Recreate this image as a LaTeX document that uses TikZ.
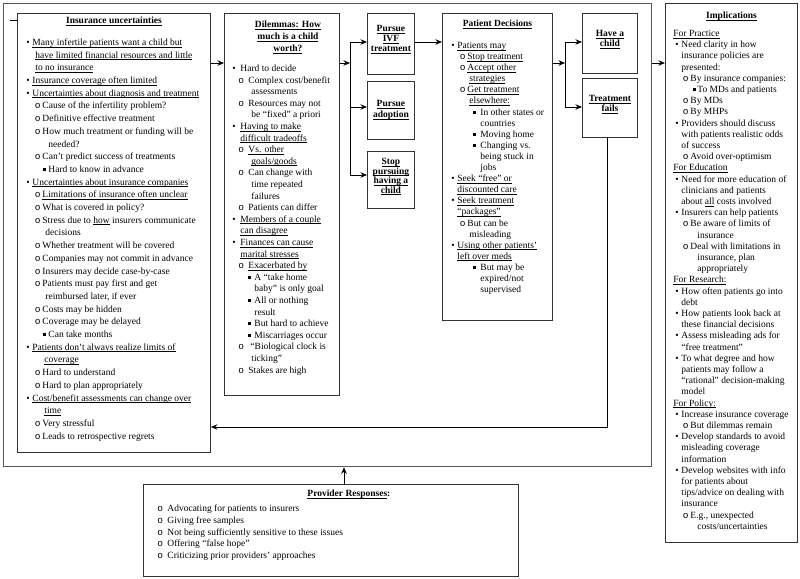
\documentclass[tikz,border=0pt]{standalone}
\usepackage{fontspec}
\setmainfont{Liberation Serif}
\newfontfamily\monof{Liberation Mono}
\usetikzlibrary{arrows.meta}
\newsavebox\ulbox
\newcommand\ul[1]{\sbox\ulbox{#1}\rlap{\rule[-1.6pt]{\wd\ulbox}{0.5pt}}\usebox\ulbox}
\newcommand\bul{•}
\newcommand\circb{{\monof o}}
\newcommand\sqb{\rule[1.4pt]{3pt}{3pt}}
\newcommand\LI[4]{\par\hangindent=#3\hangafter=1\noindent\makebox[#2][l]{\hspace*{#1}#4}\ignorespaces}
\newcommand\Hd[1]{\par\noindent\hspace*{8pt}\ul{#1}}
\tikzset{
  frame/.style={draw=black!65, line width=1.3pt, inner sep=0pt, anchor=north west},
  box/.style={draw=black!80, line width=0.9pt, inner sep=0pt, anchor=north west, fill=white},
  conn/.style={draw=black, line width=0.8pt},
  arr/.style={conn, -{Stealth[length=6.5pt,width=5.5pt]}}
}
\begin{document}
\begin{tikzpicture}[x=1pt,y=-1pt]
\useasboundingbox (0,0) rectangle (800,578);
\node[frame, minimum width=648pt, minimum height=463pt] (frame) at (3,3) {};

% Insurance uncertainties
\node[box] (ins) at (17,13) {\begin{minipage}[t][439pt][t]{193pt}\fontsize{9.5}{12.7}\selectfont
{\centering\rule{0pt}{10pt}\textbf{\ul{Insurance uncertainties}}\par}
\vspace{9.3pt}
\rightskip=-60pt plus 1fil
\def\Ia{\LI{9pt}{15pt}{18pt}{\bul}}\def\Ib{\LI{17.5pt}{25pt}{28pt}{\circb}}\def\Ic{\LI{26pt}{31pt}{31pt}{\sqb}}
\Ia\ul{Many infertile patients want a child but}\newline\ul{have limited financial resources and little}\newline\ul{to no insurance}
\Ia\ul{Insurance coverage often limited}
\Ia\ul{Uncertainties about diagnosis and treatment}
\Ib Cause of the infertility problem?
\Ib Definitive effective treatment
\Ib How much treatment or funding will be\newline\hspace*{3pt}needed?
\Ib Can’t predict success of treatments
\Ic Hard to know in advance
\Ia\ul{Uncertainties about insurance companies}
\Ib\ul{Limitations of insurance often unclear}
\Ib What is covered in policy?
\Ib Stress due to \ul{how} insurers communicate\newline decisions
\Ib Whether treatment will be covered
\Ib Companies may not commit in advance
\Ib Insurers may decide case-by-case
\Ib Patients must pay first and get\newline reimbursed later, if ever
\Ib Costs may be hidden
\Ib Coverage may be delayed
\Ic Can take months
\Ia\ul{Patients don’t always realize limits of}\newline\hspace*{9pt}\ul{coverage}
\Ib Hard to understand
\Ib Hard to plan appropriately
\Ia\ul{Cost/benefit assessments can change over}\newline\hspace*{9pt}\ul{time}
\Ib Very stressful
\Ib Leads to retrospective regrets\par
\end{minipage}};

% Dilemmas
\node[box] (dil) at (224,13) {\begin{minipage}[t][382pt][t]{115pt}\fontsize{9.5}{11.6}\selectfont
{\centering\leftskip=12pt plus 1fil\fontsize{9.5}{12}\selectfont\rule{0pt}{14pt}\textbf{\ul{Dilemmas: How}}\\\textbf{\ul{much is a child}}\\\textbf{\ul{worth?}}\par}
\vspace{8.4pt}
\rightskip=-60pt plus 1fil
\def\Ia{\LI{8pt}{16pt}{16pt}{\bul}}\def\Ib{\LI{14pt}{24pt}{27pt}{\circb}}\def\Ic{\LI{24pt}{30pt}{30pt}{\sqb}}
\Ia Hard to decide
\Ib Complex cost/benefit\newline assessments
\Ib Resources may not\newline be “fixed” a priori
\Ia\ul{Having to make}\newline\ul{difficult tradeoffs}
\Ib\ul{Vs. other}\newline\ul{goals/goods}
\Ib Can change with\newline time repeated\newline failures
\Ib Patients can differ
\Ia\ul{Members of a couple}\newline\ul{can disagree}
\Ia\ul{Finances can cause}\newline\ul{marital stresses}
\Ib\ul{Exacerbated by}
\Ic A “take home\newline baby” is only goal
\Ic All or nothing\newline result
\Ic But hard to achieve
\Ic Miscarriages occur
\Ib\hspace*{2pt}“Biological clock is\newline ticking”
\Ib Stakes are high\par
\end{minipage}};

% Options
\node[box] (ivf) at (367,13) {\begin{minipage}[t][61pt][t]{47pt}\fontsize{9.5}{10}\selectfont
{\centering\rule{0pt}{18pt}\textbf{\ul{Pursue}}\\\textbf{\ul{IVF}}\\\textbf{\ul{treatment}}\par}
\end{minipage}};
\node[box] (adop) at (367,81) {\begin{minipage}[t][58pt][t]{47pt}\fontsize{9.5}{11}\selectfont
{\centering\rule{0pt}{25pt}\textbf{\ul{Pursue}}\\\textbf{\ul{adoption}}\par}
\end{minipage}};
\node[box] (stop) at (367,151) {\begin{minipage}[t][57pt][t]{47pt}\fontsize{9.5}{9.6}\selectfont
{\centering\rule{0pt}{13pt}\textbf{\ul{Stop}}\\\textbf{\ul{pursuing}}\\\textbf{\ul{having a}}\\\textbf{\ul{child}}\par}
\end{minipage}};

% Patient decisions
\node[box] (pat) at (442,13) {\begin{minipage}[t][307pt][t]{110pt}\fontsize{9.5}{11.1}\selectfont
{\centering\rule{0pt}{13pt}\textbf{\ul{Patient Decisions}}\par}
\vspace{10.9pt}
\rightskip=-60pt plus 1fil
\def\Ia{\LI{9pt}{15pt}{15pt}{\bul}}\def\Ib{\LI{17.5pt}{25pt}{27pt}{\circb}}\def\Ic{\LI{31pt}{38pt}{38pt}{\sqb}}
\Ia\ul{Patients may}
\Ib\ul{Stop treatment}
\Ib\ul{Accept other}\newline\ul{strategies}
\Ib\ul{Get treatment}\newline\ul{elsewhere:}
\Ic In other states or\newline countries
\Ic Moving home
\Ic Changing vs.\newline being stuck in\newline jobs
\Ia\ul{Seek “free” or}\newline\ul{discounted care}
\Ia\ul{Seek treatment}\newline\ul{“packages”}
\Ib But can be\newline misleading
\Ia\ul{Using other patients’}\newline\ul{left over meds}
\Ic But may be\newline expired/not\newline supervised\par
\end{minipage}};

% Outcomes
\node[box] (have) at (582,13) {\begin{minipage}[t][60pt][t]{55pt}\fontsize{9.5}{10}\selectfont
{\centering\rule{0pt}{23pt}\textbf{\ul{Have a}}\\\textbf{\ul{child}}\par}
\end{minipage}};
\node[box] (fail) at (582,78) {\begin{minipage}[t][59pt][t]{55pt}\fontsize{9.5}{10}\selectfont
{\centering\rule{0pt}{23pt}\textbf{\ul{Treatment}}\\\textbf{\ul{fails}}\par}
\end{minipage}};

% Implications
\node[box] (impl) at (665,3) {\begin{minipage}[t][539pt][t]{132pt}\fontsize{9.5}{11.2}\selectfont
{\centering\rule{0pt}{15pt}\textbf{\ul{Implications}}\par}
\vspace{6.8pt}
\rightskip=-60pt plus 1fil
\def\Ia{\LI{10pt}{16pt}{16pt}{\bul}}\def\Ib{\LI{17.5pt}{25pt}{32pt}{\circb}}\def\Ic{\LI{28pt}{32pt}{32pt}{\sqb}}
\Hd{For Practice}
\Ia Need clarity in how\newline insurance policies are\newline presented:
\Ib By insurance companies:
\Ic To MDs and patients
\Ib By MDs
\Ib By MHPs
\Ia Providers should discuss\newline with patients realistic odds\newline of success
\Ib Avoid over-optimism
\Hd{For Education}
\Ia Need for more education of\newline clinicians and patients\newline about \ul{all} costs involved
\Ia Insurers can help patients
\Ib Be aware of limits of\newline insurance
\Ib Deal with limitations in\newline insurance, plan\newline appropriately
\Hd{For Research:}
\Ia How often patients go into\newline debt
\Ia How patients look back at\newline these financial decisions
\Ia Assess misleading ads for\newline “free treatment”
\Ia To what degree and how\newline patients may follow a\newline “rational” decision-making\newline model
\Hd{For Policy:}
\Ia Increase insurance coverage
\Ib But dilemmas remain
\Ia Develop standards to avoid\newline misleading coverage\newline information
\Ia Develop websites with info\newline for patients about\newline tips/advice on dealing with\newline insurance
\Ib E.g., unexpected\newline costs/uncertainties\par
\end{minipage}};

% Provider responses
\node[box] (prov) at (143,484) {\begin{minipage}[t][92pt][t]{375pt}\fontsize{9.5}{11.8}\selectfont
{\noindent\rule{0pt}{12pt}\hspace*{164pt}\textbf{\ul{Provider Responses}:}\par}
\vspace{3.2pt}
\rightskip=-60pt plus 1fil
\def\Ib{\LI{14pt}{24pt}{24pt}{\circb}}
\Ib Advocating for patients to insurers
\Ib Giving free samples
\Ib Not being sufficiently sensitive to these issues
\Ib Offering “false hope”
\Ib Criticizing prior providers’ approaches\par
\end{minipage}};

% connectors
\coordinate (stub) at (10,20);
\draw[conn] (stub) -- (stub -| ins.west);
\coordinate (r63) at (0,63);
\draw[arr] (ins.east |- r63) -- (dil.west |- r63);
\coordinate (jA) at (350,63);
\coordinate (jA1) at (350,42);
\coordinate (jA2) at (350,107);
\coordinate (jA3) at (350,175);
\draw[arr] (dil.east |- jA) -- (jA);
\draw[conn] (jA1) -- (jA3);
\draw[arr] (jA1) -- (jA1 -| ivf.west);
\draw[arr] (jA2) -- (jA2 -| adop.west);
\draw[arr] (jA3) -- (jA3 -| stop.west);
\draw[arr] (ivf.east |- jA1) -- (pat.west |- jA1);
\coordinate (jB) at (565,63);
\coordinate (jB1) at (565,42);
\coordinate (jB2) at (565,107);
\draw[arr] (pat.east |- jB) -- (jB);
\draw[conn] (jB1) -- (jB2);
\draw[arr] (jB1) -- (jB1 -| have.west);
\draw[arr] (jB2) -- (jB2 -| fail.west);
\coordinate (low) at (607,427);
\draw[arr] (fail.south -| low) -- (low) -- (ins.east |- low);
\draw[arr] (frame.east |- r63) -- (impl.west |- r63);
\coordinate (pa) at (344,0);
\draw[arr] (prov.north -| pa) -- (frame.south -| pa);
\end{tikzpicture}
\end{document}
